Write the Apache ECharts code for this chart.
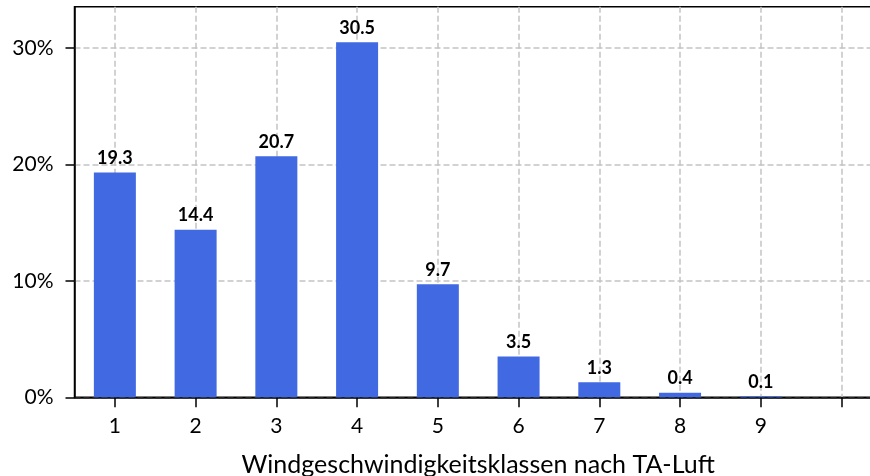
<!DOCTYPE html>
<html>
<head>
<meta charset="utf-8">
<script src="https://cdn.jsdelivr.net/npm/echarts@6/dist/echarts.min.js"></script>
<style>html,body{margin:0;padding:0;background:#fff;}#c{width:870px;height:476px;}</style>
</head>
<body>
<div id="c"></div>
<script>
const classes = [1, 2, 3, 4, 5, 6, 7, 8, 9];
const shares = [19.3, 14.4, 20.7, 30.5, 9.7, 3.5, 1.3, 0.4, 0.1];
const xTicks = [1, 2, 3, 4, 5, 6, 7, 8, 9, 10];
const xTickLabels = [1, 2, 3, 4, 5, 6, 7, 8, 9];
const yTicks = [0, 10, 20, 30];
const xTitle = 'Windgeschwindigkeitsklassen nach TA-Luft';

const chart = echarts.init(document.getElementById('c'), null, {renderer: 'canvas'});
const font = 'Lato';
chart.setOption({
  animation: false,
  grid: {
    left: 74.5, top: 6.7, width: 807.4, height: 390.6,
    show: true, borderColor: '#000', borderWidth: 1.5, backgroundColor: 'transparent',
    containLabel: false, outerBoundsMode: 'none'
  },
  xAxis: {
    type: 'value', min: 0.5, max: 10.5,
    name: xTitle, nameLocation: 'middle', nameGap: 55,
    nameTextStyle: {fontFamily: font, fontSize: 25, color: '#000'},
    axisLine: {show: true, onZero: false, lineStyle: {color: '#000', width: 1.5}},
    axisTick: {show: true, length: 10, inside: false, customValues: xTicks, lineStyle: {color: '#000', width: 1.5}},
    axisLabel: {show: true, margin: 18, customValues: xTickLabels, fontFamily: font, fontSize: 21, color: '#000'},
    splitLine: {show: true, lineStyle: {color: '#c4c4c4', width: 1.5, type: [6, 3]}}
  },
  yAxis: {
    type: 'value', min: 0, max: 33.55,
    axisLine: {show: true, lineStyle: {color: '#000', width: 1.5}},
    axisTick: {show: true, length: 9, customValues: yTicks, lineStyle: {color: '#000', width: 1.5}},
    axisLabel: {show: true, margin: 21, customValues: yTicks, formatter: '{value}%', fontFamily: font, fontSize: 21, color: '#000'},
    splitLine: {show: true, lineStyle: {color: '#c4c4c4', width: 1.5, type: [6, 3]}}
  },
  series: [{
    type: 'bar',
    data: classes.map((c, i) => [c, shares[i]]),
    barWidth: 42,
    itemStyle: {color: '#4169e1'},
    label: {
      show: true, position: 'top', distance: 5,
      formatter: p => p.value[1].toFixed(1),
      fontFamily: font, fontSize: 18, fontWeight: 'bold', color: '#000'
    }
  }]
});
</script>
</body>
</html>
